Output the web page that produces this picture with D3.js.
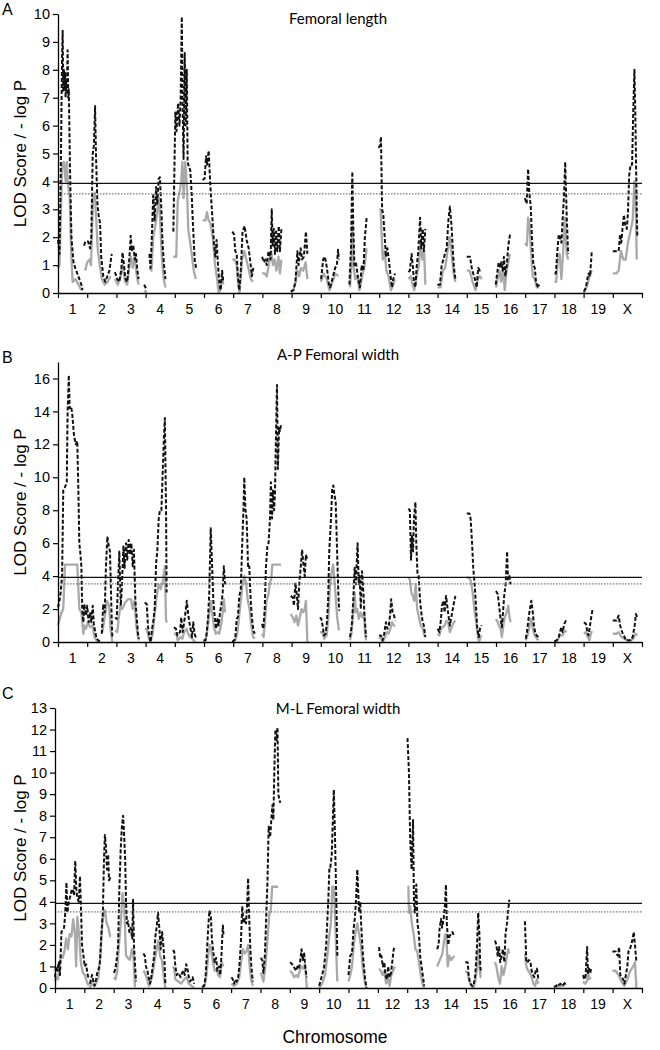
<!DOCTYPE html>
<html>
<head>
<meta charset="utf-8">
<script src="https://cdn.jsdelivr.net/npm/d3@7"></script>
<style>
body { margin: 0; background: #fff; }
svg { display: block; }
</style>
</head>
<body>
<svg width="660" height="1050"></svg>
<script>
'use strict';
// chromosome axis: chromosome i spans [i-1, i] on the genome axis
const chromLabels = ["1","2","3","4","5","6","7","8","9","10","11","12","13","14","15","16","17","18","19","X"]
const panelLetters = ["A", "B", "C"]
const panelTitles = ["Femoral length", "A-P Femoral width", "M-L Femoral width"]
const yMaxes = [10, 17, 13]
const yTicks = [d3.range(0, 11, 1), d3.range(0, 17, 2), d3.range(0, 14, 1)]
const lodThresholds = [3.93, 3.92, 3.93]
const pThresholds = [3.55, 3.53, 3.53]

// each series: list of segments, each segment flat [pos, value, pos, value, ...]
const lodA = [
	[0,1.9, .05,1.4, .09,4.0, .14,8.5, .16,9.4, .18,7.2, .20,8.0, .22,7.3, .24,7.9, .26,7.0, .28,7.6, .30,7.2, .33,8.7, .35,7.0, .37,7.3, .41,4.5, .46,2.0, .53,1.1, .59,0.9, .66,0.7, .73,0.5, .80,0.3, .84,0.1],
	[.89,1.7, .94,1.85, 1.03,1.85, 1.10,1.6, 1.14,2.0, 1.19,5.0, 1.23,5.3, 1.27,6.7, 1.30,5.0, 1.35,3.2, 1.39,2.8, 1.44,2.5, 1.48,1.3, 1.55,0.6, 1.62,0.4, 1.69,0.6, 1.76,0.8, 1.84,1.4],
	[1.95,0.75, 2.03,0.5, 2.10,0.4, 2.17,0.9, 2.21,1.45, 2.26,1.0, 2.31,0.5, 2.37,0.4, 2.44,1.2, 2.49,2.05, 2.53,1.5, 2.58,1.7, 2.63,1.2, 2.67,1.4, 2.72,0.8, 2.76,0.5],
	[2.95,0.3, 3.04,0.1],
	[3.13,1.4, 3.17,0.9, 3.22,2.2, 3.26,3.5, 3.31,2.6, 3.36,3.8, 3.40,3.2, 3.45,4.1, 3.49,4.15, 3.54,3.0, 3.58,1.8, 3.63,1.0, 3.68,0.5],
	[3.95,2.2, 4.02,6.5, 4.06,5.8, 4.11,6.8, 4.16,6.0, 4.20,7.0, 4.24,9.9, 4.27,6.5, 4.30,4.8, 4.34,8.6, 4.37,6.0, 4.41,8.0, 4.44,4.7, 4.49,4.5, 4.53,4.4, 4.58,3.5, 4.62,2.5, 4.68,1.2, 4.73,0.9],
	[4.95,4.05, 5.02,4.1, 5.07,4.9, 5.11,4.6, 5.16,5.1, 5.21,4.0, 5.25,3.3, 5.30,2.5, 5.34,1.8, 5.39,1.3, 5.43,1.9, 5.48,1.0, 5.53,0.3, 5.57,0.1, 5.62,0.8, 5.66,0.4],
	[5.97,2.2, 6.03,2.1, 6.07,1.5, 6.12,1.4, 6.16,0.6, 6.21,0.1, 6.26,0.8, 6.32,2.2, 6.39,2.4, 6.46,1.9, 6.53,1.6, 6.60,1.0, 6.64,0.6, 6.69,0.9],
	[6.99,1.3, 7.05,1.1, 7.10,1.2, 7.15,1.0, 7.21,1.5, 7.28,1.2, 7.32,3.0, 7.35,1.7, 7.39,2.3, 7.43,1.4, 7.47,2.2, 7.51,1.5, 7.56,2.4, 7.60,1.5, 7.65,2.3],
	[7.97,0.05, 8.06,0.1, 8.13,0.4, 8.20,1.5, 8.24,1.0, 8.31,1.6, 8.36,1.2, 8.42,1.3, 8.49,2.2, 8.54,1.4],
	[9.01,0.5, 9.08,1.2, 9.14,1.3, 9.21,0.9, 9.28,0.3, 9.32,0.2, 9.42,0.6, 9.49,0.9, 9.55,1.0, 9.59,1.55, 9.62,1.2],
	[9.98,0.3, 10.03,1.5, 10.08,4.35, 10.11,2.5, 10.15,1.0, 10.20,1.1, 10.23,0.9, 10.28,0.5, 10.34,0.2, 10.40,1.0, 10.46,0.8, 10.51,2.0, 10.57,2.7],
	[10.98,5.2, 11.03,5.3, 11.06,5.6, 11.10,3.0, 11.14,2.8, 11.19,2.0, 11.23,1.3, 11.28,1.6, 11.33,1.2, 11.39,0.6, 11.44,0.2, 11.48,0.5, 11.54,0.7],
	[12.00,0.75, 12.05,0.8, 12.11,1.4, 12.15,1.0, 12.19,0.4, 12.24,0.2, 12.28,0.9, 12.34,1.5, 12.40,2.7, 12.44,1.6, 12.49,2.3, 12.53,1.5, 12.58,2.3],
	[12.99,0.3, 13.08,0.3, 13.14,1.0, 13.20,1.2, 13.25,1.4, 13.31,1.6, 13.37,2.6, 13.42,3.1, 13.47,2.5, 13.52,1.6, 13.56,0.9, 13.61,0.5],
	[14.00,1.3, 14.11,1.3, 14.17,0.9, 14.22,0.7, 14.28,0.5, 14.34,0.2, 14.39,0.9, 14.45,0.8, 14.51,0.8],
	[14.99,0.3, 15.04,0.7, 15.09,1.1, 15.14,0.9, 15.18,1.1, 15.23,0.8, 15.27,1.3, 15.32,0.6, 15.37,1.0, 15.42,1.7, 15.48,2.1],
	[15.99,3.4, 16.05,3.2, 16.10,4.45, 16.14,3.6, 16.19,3.1, 16.23,2.0, 16.28,1.0, 16.33,0.9, 16.37,0.4, 16.44,0.2, 16.48,0.3],
	[17.00,0.7, 17.05,0.7, 17.10,1.5, 17.15,2.1, 17.19,2.0, 17.24,1.8, 17.28,2.6, 17.33,3.5, 17.37,4.7, 17.42,2.8, 17.47,1.4],
	[18.01,0.05, 18.08,0.2, 18.13,0.5, 18.17,0.7, 18.22,0.6, 18.28,1.5],
	[19.00,1.5, 19.13,1.5, 19.20,1.5, 19.25,2.1, 19.29,1.8, 19.34,2.4, 19.38,2.8, 19.43,2.4, 19.48,2.3, 19.52,2.9, 19.56,4.2, 19.61,4.6, 19.66,4.6, 19.70,6.5, 19.74,8.0, 19.77,6.5, 19.82,3.0, 19.84,2.0]
]
const pvalA = [
	[0,0.9, .05,1.0, .09,2.5, .14,4.6, .20,4.7, .26,4.0, .30,4.7, .35,3.8, .40,3.5, .45,1.5, .50,0.4, .60,0.5, .70,0.3, .80,0.1],
	[.93,0.8, 1.0,1.1, 1.08,1.2, 1.13,1.0, 1.20,3.4, 1.26,3.6, 1.30,2.8, 1.36,1.6, 1.42,1.1, 1.50,0.5, 1.60,0.3, 1.70,0.4, 1.80,0.6],
	[1.95,0.5, 2.05,0.3, 2.15,0.6, 2.21,1.0, 2.30,0.4, 2.37,0.3, 2.45,1.0, 2.50,1.3, 2.56,0.9, 2.62,1.3, 2.70,0.6, 2.76,0.3],
	[2.95,0.1, 3.04,0.0],
	[3.13,0.9, 3.20,0.8, 3.26,2.0, 3.33,2.4, 3.40,2.9, 3.46,3.4, 3.50,2.6, 3.56,1.2, 3.62,0.5, 3.68,0.2],
	[3.95,1.3, 4.05,1.3, 4.10,3.3, 4.16,3.6, 4.22,4.0, 4.26,4.7, 4.30,3.4, 4.36,4.7, 4.42,3.7, 4.46,2.3, 4.50,2.0, 4.58,1.4, 4.65,0.8, 4.72,0.5],
	[4.95,2.6, 5.05,2.6, 5.10,2.9, 5.16,2.6, 5.22,2.5, 5.30,2.0, 5.38,1.0, 5.45,0.5, 5.50,0.0, 5.56,0.1, 5.62,0.6, 5.66,0.3],
	[5.97,1.2, 6.05,1.2, 6.12,1.0, 6.18,0.2, 6.22,0.0, 6.30,1.2, 6.38,1.5, 6.45,1.2, 6.52,0.9, 6.60,0.5, 6.68,0.4],
	[6.99,0.7, 7.08,0.7, 7.15,0.6, 7.22,1.0, 7.30,1.5, 7.36,1.0, 7.42,1.2, 7.48,0.8, 7.55,1.3, 7.60,0.7, 7.65,1.2],
	[7.97,0.05, 8.06,0.1, 8.12,0.3, 8.20,0.8, 8.26,0.6, 8.32,0.9, 8.40,0.8, 8.48,1.1, 8.54,0.5],
	[9.0,0.4, 9.1,0.7, 9.2,0.5, 9.3,0.1, 9.4,0.4, 9.5,0.7, 9.6,0.6],
	[10.0,0.2, 10.05,1.0, 10.08,2.4, 10.12,1.0, 10.18,0.5, 10.25,0.6, 10.32,0.1, 10.40,0.5, 10.50,1.0, 10.57,1.6],
	[11.0,3.0, 11.05,3.0, 11.08,2.2, 11.12,1.2, 11.18,1.5, 11.25,0.8, 11.32,0.6, 11.40,0.1, 11.48,0.3, 11.54,0.5],
	[12.0,0.5, 12.08,0.6, 12.14,0.3, 12.20,0.1, 12.28,0.6, 12.36,1.0, 12.42,1.8, 12.48,1.2, 12.54,1.5, 12.58,0.3],
	[13.0,0.2, 13.1,0.2, 13.18,0.8, 13.26,0.9, 13.34,1.5, 13.42,2.0, 13.50,1.2, 13.56,0.6, 13.61,0.4],
	[14.0,0.8, 14.1,0.8, 14.2,0.4, 14.3,0.1, 14.38,0.5, 14.45,0.6, 14.51,0.5],
	[15.0,0.2, 15.06,0.5, 15.12,0.8, 15.18,0.4, 15.24,0.9, 15.30,0.1, 15.36,0.8, 15.42,1.1, 15.48,1.4],
	[16.0,1.8, 16.06,1.7, 16.10,2.7, 16.15,2.4, 16.20,1.5, 16.26,0.6, 16.32,0.5, 16.40,0.2, 16.48,0.2],
	[17.0,0.4, 17.06,0.4, 17.12,1.2, 17.18,1.4, 17.24,0.5, 17.30,1.5, 17.36,2.7, 17.42,1.4, 17.47,1.2],
	[18.0,0.0, 18.1,0.2, 18.18,0.5, 18.28,0.8],
	[19.0,0.7, 19.12,0.7, 19.20,0.8, 19.28,1.5, 19.36,1.2, 19.44,1.2, 19.52,1.8, 19.60,2.2, 19.68,2.6, 19.74,4.0, 19.78,3.5, 19.82,1.2]
]

const lodB = [
	[0,2.1, .05,2.5, .09,3.0, .14,4.0, .18,9.2, .24,9.4, .30,9.7, .33,14.0, .37,16.2, .40,14.2, .45,14.3, .49,13.8, .55,12.5, .61,12.0, .66,12.2, .70,9.0, .73,6.0, .76,5.5, .80,4.6, .83,2.0, .87,1.2, .90,2.3, .96,1.6, 1.00,2.2, 1.05,1.2, 1.10,1.8, 1.14,1.2, 1.19,2.2, 1.23,1.0, 1.28,0.6, 1.32,0.2, 1.38,0.1, 1.44,0.0],
	[1.50,0.5, 1.55,2.3, 1.60,1.8, 1.64,4.5, 1.69,6.4, 1.74,5.8, 1.78,5.5, 1.83,2.0, 1.86,0.3],
	[1.96,1.5, 2.01,1.4, 2.05,3.3, 2.10,5.5, 2.15,2.2, 2.19,3.5, 2.24,5.8, 2.28,4.5, 2.33,6.0, 2.37,5.0, 2.42,6.2, 2.47,5.3, 2.51,6.0, 2.56,4.6, 2.60,5.6, 2.65,2.5, 2.69,1.6, 2.74,0.5, 2.77,0.2],
	[2.97,2.4, 3.04,2.3, 3.08,1.0, 3.13,0.3, 3.17,0.0, 3.22,0.8, 3.26,1.2, 3.31,2.0, 3.36,4.8, 3.40,5.5, 3.45,7.5, 3.49,8.0, 3.54,8.0, 3.58,10.0, 3.63,12.5, 3.66,13.6, 3.70,8.0, 3.72,3.0],
	[3.97,0.9, 4.04,0.8, 4.09,0.4, 4.13,0.5, 4.18,0.6, 4.22,1.5, 4.27,0.6, 4.32,1.2, 4.36,1.7, 4.41,2.5, 4.45,1.8, 4.50,1.2, 4.54,0.8, 4.59,0.3, 4.63,1.2, 4.68,0.5, 4.73,0.2],
	[4.98,0.1, 5.05,0.1, 5.09,0.5, 5.14,1.5, 5.18,3.0, 5.23,6.9, 5.27,5.0, 5.32,2.5, 5.37,1.5, 5.41,0.8, 5.46,1.4, 5.50,1.0, 5.55,1.8, 5.59,2.2, 5.64,3.0, 5.68,4.6, 5.72,3.5],
	[5.97,0.0, 6.03,0.1, 6.07,0.2, 6.12,1.4, 6.16,1.5, 6.21,2.8, 6.26,3.2, 6.30,5.5, 6.35,8.0, 6.38,10.0, 6.42,8.0, 6.46,7.5, 6.51,4.5, 6.55,4.6, 6.60,2.5, 6.64,1.5, 6.69,0.7, 6.74,0.5],
	[6.99,1.1, 7.03,0.8, 7.08,2.0, 7.12,4.5, 7.17,5.8, 7.21,6.0, 7.26,7.5, 7.29,9.7, 7.33,7.5, 7.36,9.2, 7.40,8.0, 7.43,9.0, 7.47,13.0, 7.50,15.6, 7.53,10.5, 7.57,13.0, 7.60,12.8, 7.64,13.2],
	[7.97,2.8, 8.04,2.7, 8.08,2.2, 8.13,3.6, 8.17,3.0, 8.22,2.0, 8.26,3.5, 8.31,4.5, 8.36,5.6, 8.40,4.8, 8.45,4.0, 8.49,5.3, 8.54,5.0],
	[8.97,1.5, 9.02,1.4, 9.06,1.0, 9.11,0.4, 9.16,0.5, 9.20,1.0, 9.25,2.5, 9.29,5.5, 9.35,7.5, 9.39,9.3, 9.43,9.5, 9.46,9.0, 9.51,8.5, 9.55,6.0, 9.60,3.0, 9.63,1.9],
	[10.00,0.3, 10.06,1.0, 10.11,2.5, 10.16,4.5, 10.20,3.5, 10.23,4.8, 10.26,6.0, 10.30,3.5, 10.33,4.0, 10.37,2.0, 10.41,4.3, 10.46,3.0, 10.50,1.5, 10.55,0.3],
	[10.99,0.4, 11.06,0.4, 11.12,0.1, 11.17,0.5, 11.23,1.2, 11.28,0.8, 11.33,1.0, 11.37,1.6, 11.41,2.6, 11.46,1.8, 11.51,1.6, 11.55,1.3],
	[12.00,8.1, 12.05,8.0, 12.09,5.0, 12.12,6.5, 12.16,5.5, 12.19,7.5, 12.24,8.5, 12.27,6.0, 12.31,4.2, 12.35,4.0, 12.40,2.5, 12.44,1.8, 12.49,1.2, 12.53,1.0, 12.58,0.3],
	[13.00,0.8, 13.06,0.6, 13.11,1.3, 13.15,2.2, 13.20,2.5, 13.24,1.8, 13.29,2.8, 13.33,2.2, 13.38,1.5, 13.42,1.0, 13.47,1.5, 13.54,2.2, 13.61,2.8],
	[14.00,7.8, 14.09,7.8, 14.13,7.5, 14.18,6.0, 14.22,4.5, 14.27,3.5, 14.32,2.0, 14.36,0.8, 14.41,0.3, 14.45,0.8, 14.51,1.0],
	[15.00,3.1, 15.06,2.9, 15.10,2.3, 15.15,1.5, 15.20,0.9, 15.24,1.8, 15.28,2.8, 15.33,3.5, 15.38,5.5, 15.41,3.8, 15.46,4.0, 15.50,3.5],
	[16.02,0.2, 16.06,0.6, 16.12,1.5, 16.16,2.0, 16.21,2.5, 16.26,1.8, 16.30,1.0, 16.35,0.5, 16.39,0.4, 16.45,0.3],
	[17.00,0.05, 17.08,0.1, 17.15,0.3, 17.19,0.6, 17.24,0.9, 17.28,0.6, 17.34,1.1, 17.42,1.4],
	[18.01,1.2, 18.08,1.1, 18.13,0.6, 18.17,0.4, 18.22,1.0, 18.26,1.5, 18.31,2.0],
	[19.00,1.3, 19.13,1.3, 19.20,1.6, 19.25,1.0, 19.32,0.6, 19.38,0.4, 19.45,0.1, 19.53,0.1, 19.61,0.1, 19.68,0.3, 19.75,1.0, 19.79,1.7, 19.84,1.5]
]
const pvalB = [
	[0,1.0, .12,1.8, .18,2.0, .24,4.7, .66,4.7, .73,2.0, .80,1.8, .87,0.5, .90,1.0, .96,0.8, 1.02,1.2, 1.10,0.9, 1.18,1.0, 1.25,0.3, 1.35,0.0, 1.45,0.0],
	[1.52,0.6, 1.60,1.5, 1.68,2.5, 1.75,2.2, 1.80,0.8, 1.86,0.0],
	[1.96,0.7, 2.03,0.6, 2.08,1.5, 2.14,2.2, 2.20,2.0, 2.30,2.4, 2.40,2.6, 2.50,2.6, 2.56,2.0, 2.62,2.5, 2.68,1.0, 2.74,0.3, 2.77,0.1],
	[2.97,0.8, 3.04,0.8, 3.10,0.3, 3.17,0.0, 3.24,0.5, 3.30,1.5, 3.38,2.8, 3.45,3.5, 3.52,3.2, 3.60,3.8, 3.66,4.6, 3.70,1.3, 3.74,1.2],
	[3.97,0.5, 4.05,0.5, 4.10,0.1, 4.20,0.3, 4.26,0.2, 4.32,0.6, 4.40,0.8, 4.46,0.5, 4.52,0.3, 4.60,0.2, 4.68,0.0, 4.73,0.0],
	[4.98,0.0, 5.06,0.1, 5.12,0.8, 5.18,1.7, 5.23,2.5, 5.28,1.8, 5.34,0.9, 5.40,0.5, 5.46,0.6, 5.52,0.5, 5.58,1.0, 5.64,1.8, 5.68,2.6, 5.72,1.8],
	[5.97,0.0, 6.07,0.1, 6.14,0.5, 6.20,1.5, 6.26,2.5, 6.32,3.5, 6.38,4.0, 6.44,3.6, 6.50,2.5, 6.56,2.0, 6.62,1.0, 6.68,0.3, 6.74,0.2],
	[6.99,0.5, 7.04,0.3, 7.08,1.0, 7.14,2.5, 7.20,2.8, 7.26,3.6, 7.30,3.8, 7.34,4.7, 7.64,4.7],
	[7.97,1.7, 8.04,1.5, 8.10,1.2, 8.16,1.6, 8.22,1.0, 8.28,1.5, 8.34,2.0, 8.40,1.8, 8.45,2.0, 8.49,2.5, 8.54,0.0],
	[8.97,0.6, 9.05,0.6, 9.12,0.2, 9.20,0.4, 9.26,1.5, 9.30,3.0, 9.35,4.0, 9.42,4.7, 9.50,3.0, 9.56,1.5, 9.62,0.7],
	[10.0,0.1, 10.05,0.5, 10.10,1.5, 10.16,3.0, 10.20,1.8, 10.25,2.0, 10.30,1.4, 10.36,1.8, 10.42,1.5, 10.48,1.8, 10.52,0.5, 10.55,0.1],
	[10.99,0.3, 11.06,0.2, 11.12,0.0, 11.20,0.3, 11.26,0.6, 11.32,0.5, 11.38,0.8, 11.44,1.2, 11.50,1.0, 11.55,1.0],
	[12.0,3.9, 12.05,3.8, 12.10,3.0, 12.15,2.8, 12.20,2.5, 12.25,3.5, 12.30,2.0, 12.36,1.5, 12.42,1.0, 12.50,0.8, 12.56,0.3],
	[13.0,0.5, 13.06,0.4, 13.12,0.8, 13.18,0.9, 13.24,1.0, 13.30,1.3, 13.36,1.2, 13.42,0.6, 13.50,1.0, 13.56,1.2, 13.61,1.3],
	[14.0,3.9, 14.08,3.9, 14.14,3.7, 14.20,3.0, 14.26,2.0, 14.32,1.2, 14.38,0.3, 14.42,0.0, 14.47,0.3, 14.51,0.4],
	[15.0,1.4, 15.06,1.2, 15.10,1.0, 15.16,0.8, 15.20,0.3, 15.25,1.0, 15.30,1.5, 15.36,1.8, 15.42,2.2, 15.46,1.5, 15.50,1.2],
	[16.02,0.1, 16.08,0.4, 16.14,0.9, 16.20,1.4, 16.26,0.8, 16.32,0.4, 16.40,0.2, 16.45,0.1],
	[17.0,0.0, 17.1,0.1, 17.2,0.4, 17.28,0.4, 17.35,0.7, 17.42,0.6],
	[18.01,0.5, 18.08,0.6, 18.14,0.3, 18.20,0.1, 18.26,0.6, 18.31,0.6],
	[19.0,0.5, 19.12,0.5, 19.20,0.6, 19.30,0.3, 19.40,0.2, 19.50,0.1, 19.62,0.1, 19.70,0.2, 19.78,0.5, 19.84,0.4]
]

const lodC = [
	[0,0.5, .03,1.0, .08,0.8, .13,1.2, .17,0.6, .22,2.6, .26,2.7, .31,2.8, .35,3.5, .39,4.9, .42,3.5, .47,4.0, .51,4.2, .56,4.5, .60,4.6, .65,4.3, .69,5.9, .73,4.5, .76,4.2, .81,4.0, .85,5.2, .89,3.5, .92,2.0, .97,1.5, 1.01,1.0, 1.06,1.1, 1.10,0.7, 1.15,0.4],
	[1.19,0.2, 1.26,0.6, 1.31,0.3, 1.35,0.1, 1.40,0.4, 1.44,0.7, 1.49,0.9, 1.53,1.2, 1.58,2.5, 1.63,3.5, 1.67,6.0, 1.70,7.1, 1.74,6.5, 1.77,5.5, 1.81,6.2, 1.84,5.0, 1.88,5.1, 1.91,5.0],
	[2.01,0.7, 2.06,0.9, 2.10,1.3, 2.15,2.0, 2.19,4.5, 2.24,6.5, 2.28,7.5, 2.32,8.0, 2.35,7.3, 2.39,6.0, 2.42,4.0, 2.45,3.0, 2.49,3.1, 2.53,2.6, 2.58,2.8, 2.63,2.3, 2.66,4.1, 2.69,2.0, 2.73,1.0, 2.76,0.3],
	[3.01,1.6, 3.06,1.5, 3.10,1.0, 3.15,0.8, 3.19,0.5, 3.24,0.2, 3.28,0.5, 3.33,1.0, 3.38,1.5, 3.42,2.4, 3.47,2.9, 3.51,3.5, 3.56,2.7, 3.60,1.8, 3.65,2.6, 3.69,2.0, 3.73,1.2, 3.76,0.2],
	[4.01,1.75, 4.06,1.7, 4.10,1.0, 4.15,0.6, 4.19,0.7, 4.24,0.6, 4.28,0.5, 4.33,0.7, 4.38,0.8, 4.42,0.6, 4.47,1.1, 4.51,0.9, 4.56,0.5, 4.60,0.3, 4.65,0.4, 4.69,0.5, 4.74,0.2],
	[5.01,0.05, 5.08,0.1, 5.13,0.5, 5.17,1.5, 5.22,2.8, 5.26,3.6, 5.31,3.3, 5.35,2.2, 5.40,1.6, 5.44,1.2, 5.49,1.4, 5.53,0.8, 5.58,1.0, 5.63,0.6, 5.67,1.5, 5.72,2.9, 5.74,2.5],
	[6.01,0.5, 6.06,0.4, 6.10,0.2, 6.15,0.4, 6.19,0.3, 6.24,0.5, 6.28,1.0, 6.33,2.0, 6.38,3.8, 6.42,3.0, 6.47,3.2, 6.51,3.0, 6.55,4.0, 6.58,5.1, 6.61,3.5, 6.65,2.0, 6.69,1.0, 6.74,0.3],
	[7.01,1.4, 7.06,1.3, 7.10,0.7, 7.15,1.5, 7.19,3.0, 7.24,5.0, 7.28,7.5, 7.33,7.0, 7.38,8.0, 7.41,8.5, 7.44,7.8, 7.48,10.5, 7.51,12.0, 7.55,11.5, 7.58,12.1, 7.61,9.0, 7.65,8.7, 7.68,8.6],
	[8.01,1.2, 8.08,1.1, 8.13,1.0, 8.17,0.9, 8.22,0.8, 8.26,1.0, 8.31,0.9, 8.35,1.2, 8.40,1.8, 8.44,1.3, 8.49,1.6, 8.53,0.9, 8.58,0.5],
	[9.00,0.1, 9.06,0.4, 9.10,0.6, 9.17,1.0, 9.24,2.0, 9.31,4.0, 9.35,5.6, 9.38,5.6, 9.43,6.2, 9.47,8.0, 9.50,9.2, 9.54,7.0, 9.57,5.0, 9.60,3.0, 9.62,1.5],
	[10.00,0.6, 10.06,1.5, 10.12,1.6, 10.17,2.7, 10.22,3.3, 10.26,4.2, 10.30,5.5, 10.33,4.5, 10.36,3.5, 10.40,4.0, 10.43,3.0, 10.47,2.0, 10.51,1.2, 10.56,0.5, 10.61,0.0],
	[11.04,1.9, 11.08,1.4, 11.12,1.5, 11.17,1.0, 11.22,1.2, 11.26,0.6, 11.31,0.4, 11.35,1.0, 11.40,0.5, 11.45,0.7, 11.49,1.2, 11.54,1.8, 11.58,1.9],
	[12.01,11.6, 12.06,10.0, 12.10,7.0, 12.15,5.5, 12.20,7.8, 12.23,4.0, 12.26,3.5, 12.31,4.8, 12.35,3.0, 12.40,2.5, 12.44,1.5, 12.49,1.0, 12.54,0.5, 12.58,0.1],
	[13.02,1.8, 13.07,2.0, 13.10,2.7, 13.15,3.2, 13.19,2.8, 13.24,3.2, 13.29,3.9, 13.32,4.8, 13.35,3.0, 13.40,2.0, 13.44,2.4, 13.49,2.5, 13.54,2.6, 13.60,2.4],
	[13.98,1.2, 14.06,1.2, 14.10,0.5, 14.15,0.2, 14.21,0.1, 14.26,0.1, 14.32,0.6, 14.38,2.0, 14.42,3.5, 14.46,2.5, 14.49,1.0, 14.52,0.7],
	[14.99,2.2, 15.04,2.0, 15.08,1.5, 15.13,1.9, 15.17,1.2, 15.22,1.5, 15.26,1.8, 15.31,1.2, 15.35,2.5, 15.40,3.0, 15.44,3.6, 15.48,4.1],
	[16.01,3.1, 16.06,1.2, 16.10,1.2, 16.15,1.3, 16.20,1.2, 16.24,0.8, 16.29,0.6, 16.33,0.5, 16.38,0.8, 16.42,0.9, 16.47,0.4],
	[17.00,0.05, 17.08,0.1, 17.13,0.2, 17.17,0.15, 17.22,0.2, 17.28,0.1, 17.35,0.2, 17.42,0.3],
	[17.99,0.6, 18.04,0.4, 18.08,0.6, 18.13,1.9, 18.16,0.7, 18.20,0.9, 18.24,0.7, 18.26,0.9],
	[18.99,1.7, 19.10,1.7, 19.17,1.5, 19.22,1.9, 19.26,0.6, 19.31,0.5, 19.36,0.4, 19.40,0.2, 19.45,0.6, 19.50,1.0, 19.54,1.7, 19.59,1.8, 19.63,2.0, 19.67,2.2, 19.72,2.6, 19.76,2.0, 19.81,1.2]
]
const pvalC = [
	[0,0.3, .05,0.5, .10,0.4, .15,1.0, .20,1.5, .26,1.4, .32,1.7, .38,2.3, .44,1.8, .50,2.5, .56,2.4, .62,3.2, .68,2.5, .72,1.0, .76,3.3, .82,2.5, .88,1.2, .95,0.7, 1.02,0.6, 1.08,0.3, 1.15,0.1],
	[1.19,0.0, 1.26,0.3, 1.32,0.1, 1.40,0.2, 1.48,0.5, 1.55,1.5, 1.62,3.2, 1.70,3.6, 1.76,3.0, 1.82,2.8, 1.88,2.4, 1.91,2.4],
	[2.01,0.5, 2.06,0.4, 2.12,0.8, 2.18,2.0, 2.24,3.0, 2.30,4.4, 2.36,3.8, 2.42,1.5, 2.48,1.4, 2.55,1.3, 2.62,1.8, 2.66,1.8, 2.72,0.1, 2.76,0.1],
	[3.01,0.8, 3.06,0.7, 3.12,0.5, 3.20,0.1, 3.26,0.3, 3.32,0.6, 3.40,1.3, 3.46,1.8, 3.52,2.2, 3.58,1.5, 3.64,1.3, 3.70,0.6, 3.76,0.0],
	[4.01,1.0, 4.06,0.9, 4.10,0.4, 4.20,0.3, 4.30,0.2, 4.40,0.4, 4.48,0.5, 4.56,0.2, 4.65,0.1, 4.74,0.0],
	[5.01,0.0, 5.10,0.1, 5.16,0.6, 5.22,1.5, 5.27,2.0, 5.32,1.8, 5.38,1.2, 5.44,0.8, 5.50,0.9, 5.56,0.6, 5.62,0.5, 5.68,1.2, 5.74,1.0],
	[6.01,0.2, 6.10,0.1, 6.20,0.2, 6.28,0.5, 6.34,1.2, 6.40,1.8, 6.46,1.6, 6.52,1.7, 6.58,2.0, 6.62,1.2, 6.68,0.4, 6.74,0.1],
	[7.01,0.7, 7.06,0.5, 7.10,0.3, 7.15,0.8, 7.20,1.5, 7.25,2.5, 7.30,3.4, 7.35,3.6, 7.40,4.7, 7.60,4.7],
	[8.01,0.8, 8.08,0.7, 8.15,0.5, 8.22,0.6, 8.28,0.5, 8.34,0.8, 8.40,1.0, 8.46,0.9, 8.52,1.1, 8.58,0.0],
	[9.0,0.0, 9.1,0.2, 9.2,0.6, 9.28,1.5, 9.35,2.5, 9.40,3.0, 9.45,4.7, 9.50,4.7, 9.55,3.0, 9.60,1.0, 9.62,0.3],
	[10.0,0.3, 10.06,0.6, 10.12,1.0, 10.18,2.0, 10.24,2.6, 10.30,3.0, 10.36,2.5, 10.42,2.0, 10.48,1.0, 10.55,0.3, 10.61,0.0],
	[11.04,0.9, 11.10,0.8, 11.16,0.6, 11.22,0.8, 11.28,0.2, 11.34,0.5, 11.40,0.1, 11.46,0.6, 11.52,0.8, 11.58,1.0],
	[12.01,4.7, 12.04,4.7, 12.06,3.5, 12.10,3.8, 12.16,3.0, 12.22,2.5, 12.28,1.8, 12.34,1.7, 12.40,1.2, 12.46,0.6, 12.52,0.2, 12.58,0.0],
	[13.02,1.0, 13.08,1.2, 13.14,1.4, 13.20,1.6, 13.26,2.2, 13.30,2.5, 13.34,2.3, 13.38,1.0, 13.44,1.5, 13.50,1.3, 13.56,1.4, 13.60,1.5],
	[13.98,0.8, 14.06,0.7, 14.12,0.3, 14.20,0.1, 14.26,0.0, 14.32,0.3, 14.38,1.0, 14.42,1.8, 14.46,1.0, 14.50,0.5, 14.52,0.5],
	[14.99,1.2, 15.04,1.0, 15.10,0.5, 15.16,0.2, 15.22,1.0, 15.28,0.6, 15.34,1.0, 15.40,1.5, 15.44,1.8, 15.48,1.6],
	[16.01,1.6, 16.06,1.0, 16.12,0.8, 16.18,0.7, 16.24,0.5, 16.30,0.2, 16.36,0.1, 16.42,0.4, 16.47,0.2],
	[17.0,0.0, 17.1,0.05, 17.2,0.1, 17.3,0.1, 17.42,0.2],
	[17.99,0.3, 18.06,0.2, 18.12,0.3, 18.16,0.9, 18.20,0.4, 18.26,0.5],
	[18.99,0.8, 19.10,0.8, 19.20,0.6, 19.30,0.3, 19.40,0.1, 19.50,0.4, 19.60,0.8, 19.70,1.0, 19.76,1.2, 19.81,0.0]
]

const lodSeries = [lodA, lodB, lodC]
const pvalSeries = [pvalA, pvalB, pvalC]

// pixel frames of the three panels
const frames = [
	{left: 58, right: 642, top: 14, bottom: 293, titleY: 24, letterY: 15},
	{left: 58, right: 642, top: 362, bottom: 642, titleY: 360, letterY: 363},
	{left: 55, right: 642, top: 708, bottom: 988, titleY: 714, letterY: 699}
]

let eSvg = d3.select("svg")
const sans = "Liberation Sans, Arial, sans-serif"

function toPairs(flat) {
	let out = []
	for (let i = 0; i < flat.length; i += 2) out.push([flat[i], flat[i + 1]])
	return out}

frames.forEach((f, p) => {
	let x = d3.scaleLinear().domain([0, 20]).range([f.left, f.right])
	let y = d3.scaleLinear().domain([0, yMaxes[p]]).range([f.bottom, f.top])
	let g = eSvg.append("g")
	let line = d3.line().x(d => x(d[0])).y(d => y(d[1]))

	// -log P (grey, solid) under the LOD curve
	g.append("g").selectAll("path")
		.data(pvalSeries[p].map(toPairs))
		.join("path")
		.attr("d", line)
		.attr("fill", "none")
		.attr("stroke", "#a9a9a9")
		.attr("stroke-width", 2.3)
		.attr("stroke-linejoin", "round")

	// LOD (black, dashed)
	g.append("g").selectAll("path")
		.data(lodSeries[p].map(toPairs))
		.join("path")
		.attr("d", line)
		.attr("fill", "none")
		.attr("stroke", "#111")
		.attr("stroke-width", 2)
		.attr("stroke-dasharray", "4,2")
		.attr("stroke-linejoin", "round")

	// thresholds
	g.append("line")
		.attr("x1", x(0)).attr("x2", x(20))
		.attr("y1", y(lodThresholds[p])).attr("y2", y(lodThresholds[p]))
		.attr("stroke", "#111").attr("stroke-width", 1.3)
	g.append("line")
		.attr("x1", x(0)).attr("x2", x(20))
		.attr("y1", y(pThresholds[p])).attr("y2", y(pThresholds[p]))
		.attr("stroke", "#777").attr("stroke-width", 1.2)
		.attr("stroke-dasharray", "1.5,1.5")

	// y axis
	let yAxis = g.append("g")
		.attr("transform", `translate(${f.left},0)`)
		.call(d3.axisLeft(y).tickValues(yTicks[p]).tickSize(5).tickSizeOuter(0).tickPadding(3))
	yAxis.select(".domain").attr("stroke", "#000").attr("stroke-width", 1.3)
	yAxis.selectAll(".tick line").attr("stroke", "#000").attr("stroke-width", 1.2)
	yAxis.selectAll("text")
		.attr("font-family", sans)
		.attr("font-size", 14.5).attr("fill", "#000")

	// x axis: ticks between chromosomes, labels centred on each
	let xAxis = g.append("g")
		.attr("transform", `translate(0,${f.bottom})`)
		.call(d3.axisBottom(x).tickValues(d3.range(0, 21)).tickFormat("").tickSize(5).tickSizeOuter(0))
	xAxis.select(".domain").attr("stroke", "#000").attr("stroke-width", 1.3)
	xAxis.selectAll(".tick line").attr("stroke", "#000").attr("stroke-width", 1.2)
	g.append("g").selectAll("text")
		.data(chromLabels)
		.join("text")
		.attr("x", (d, i) => x(i + 0.5))
		.attr("y", f.bottom + 20.5)
		.attr("text-anchor", "middle")
		.attr("font-family", sans)
		.attr("font-size", 14)
		.text(d => d)

	// y title
	g.append("text")
		.attr("transform", `translate(22,${(f.top + f.bottom) / 2}) rotate(-90)`)
		.attr("text-anchor", "middle")
		.attr("dominant-baseline", "middle")
		.attr("font-family", sans)
		.attr("font-size", 17)
		.text("LOD Score / - log P")

	// panel title and letter
	g.append("text")
		.attr("x", 338).attr("y", f.titleY)
		.attr("text-anchor", "middle")
		.attr("font-family", "Lato, sans-serif")
		.attr("font-size", 15)
		.text(panelTitles[p])
	g.append("text")
		.attr("x", 2).attr("y", f.letterY)
		.attr("font-family", sans)
		.attr("font-size", 16)
		.text(panelLetters[p])
})

eSvg.append("text")
	.attr("x", 335).attr("y", 1043)
	.attr("text-anchor", "middle")
	.attr("font-family", sans)
	.attr("font-size", 17.5)
	.text("Chromosome")
</script>
</body>
</html>
